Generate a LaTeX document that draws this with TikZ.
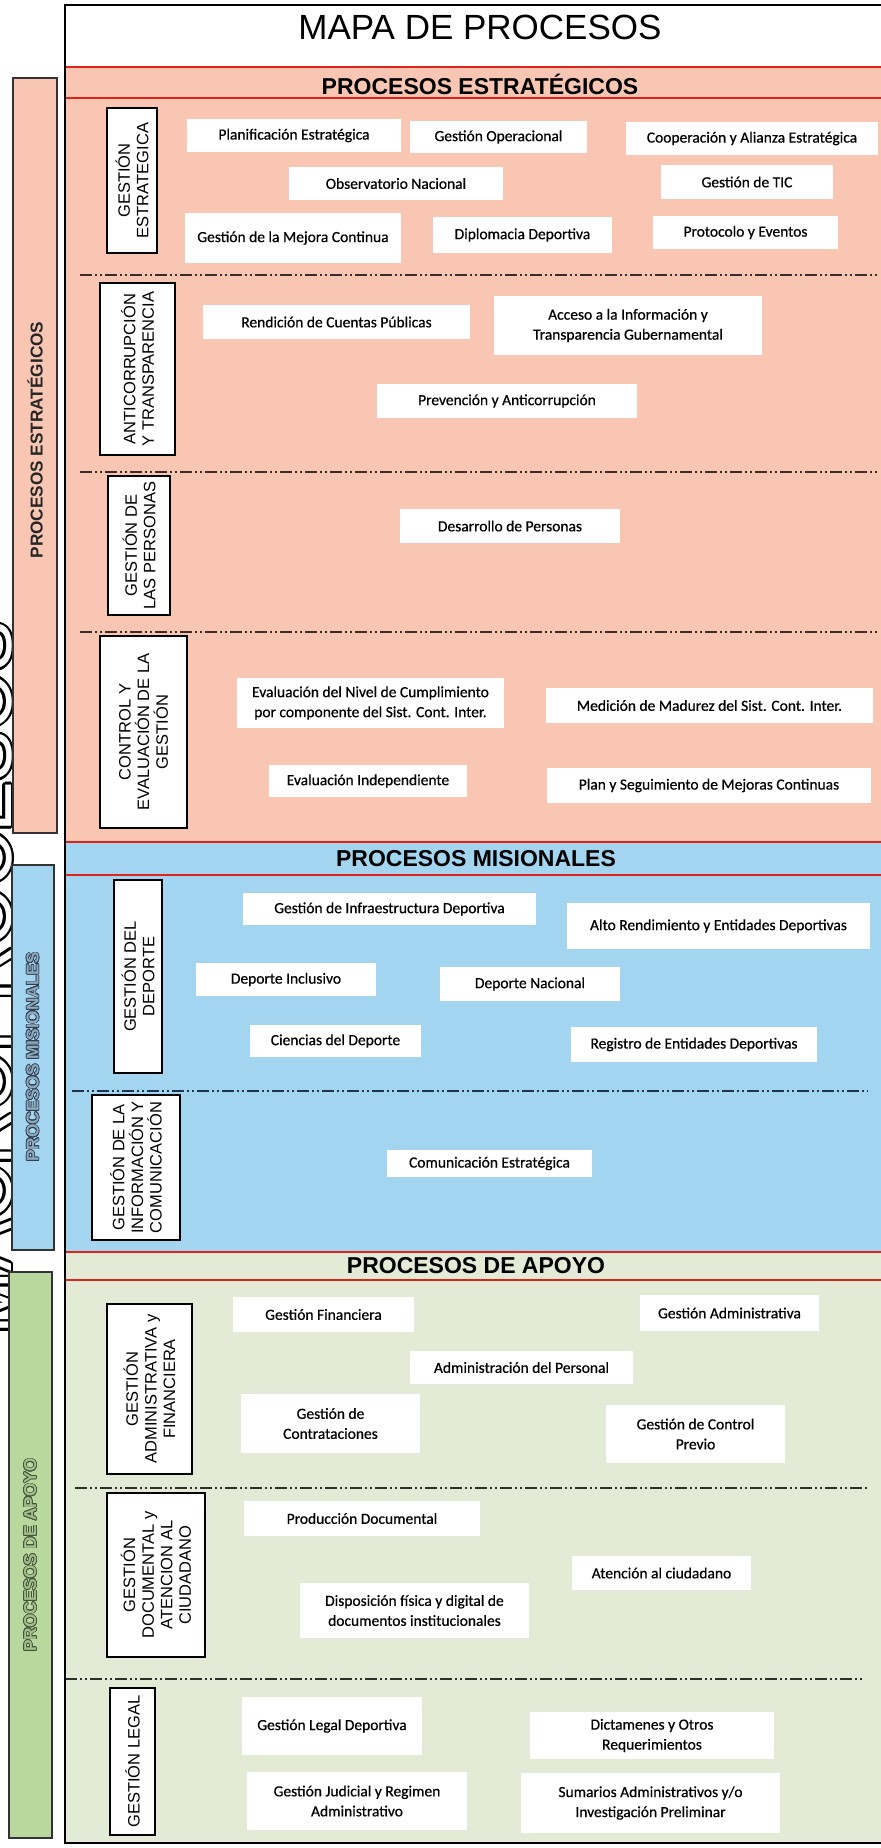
\documentclass[tikz,border=0pt]{standalone}
\usepackage{fontspec}
\setmainfont{Liberation Sans}
\newfontfamily\boxfont[FakeBold=0.6]{Carlito}
\usepackage[copies]{contour}
\definecolor{pinkc}{HTML}{F8C6B2}
\definecolor{bluec}{HTML}{A3D5F0}
\definecolor{greenc}{HTML}{E3EBD6}
\definecolor{greenbar}{HTML}{B9D89E}
\definecolor{redl}{HTML}{E0241B}
\definecolor{sepA}{HTML}{3B2A26}
\definecolor{sepB}{HTML}{1E3552}
\definecolor{sepC}{HTML}{2E2E2A}
\definecolor{misiF}{HTML}{8FA9BE}
\definecolor{misiC}{HTML}{2F3F4F}
\definecolor{apoF}{HTML}{A3BF8C}
\definecolor{apoC}{HTML}{44553A}
\newcommand\pbox[6]{\node[procbox, minimum width={(#4-#2)*0.5pt}, minimum height={(#5-#3)*0.5pt}] (#1) at ({(#2+#4)/2},{(#3+#5)/2}) {#6};}
\newcommand\lbox[6]{\node[labelbox, minimum width={(#5-#3)*0.5pt}, minimum height={(#4-#2)*0.5pt}] (#1) at ({(#2+#4)/2},{(#3+#5)/2}) {#6};}
\begin{document}
\begin{tikzpicture}[x=0.5pt,y=-0.5pt,
  procbox/.style={fill=white, inner sep=0pt, align=center, font=\boxfont\fontsize{7.75}{10}\selectfont, text=black},
  labelbox/.style={draw=black, line width=1pt, fill=white, rotate=90, inner sep=0pt, align=center, font=\fontsize{8.25}{9.3}\selectfont},
  sepline/.style={line width=1.1pt, dash pattern=on 6pt off 1.5pt on 1pt off 1.5pt on 1pt off 1.5pt},
  redline/.style={draw=redl, line width=1.4pt},
  sidebar/.style={draw=black!80, line width=0.7pt, rotate=90, inner sep=0pt},
  sidetext/.style={rotate=90, inner sep=0pt, font=\bfseries\fontsize{8.6}{10}\selectfont},
  header/.style={inner sep=0pt, font=\bfseries\fontsize{11.5}{13}\selectfont}]
\useasboundingbox (0,0) rectangle (880,1848);
\fill[white] (0,0) rectangle (880,1848);
% big background word
\contourlength{1.3pt}
\node[rotate=90, anchor=base, inner sep=0pt, font=\fontsize{38}{38}\selectfont] (macro) at (11,978) {\contour{black}{\textcolor{white}{MACROPROCESOS}}};
% side bars
\node[sidebar, fill=pinkc, minimum width={(833-78)*0.5pt}, minimum height={(57-13)*0.5pt}] (barE) at (35,455.5) {};
\node[sidetext, text=black!85] (barEt) at (35,440) {PROCESOS ESTRATÉGICOS};
\node[sidebar, fill=bluec, minimum width={(1250-865)*0.5pt}, minimum height={(54-12)*0.5pt}] (barM) at (33,1057.5) {};
\contourlength{0.35pt}
\node[sidetext] (barMt) at (33,1057) {\contour{misiC}{\textcolor{misiF}{PROCESOS MISIONALES}}};
\node[sidebar, fill=greenbar, minimum width={(1838-1272)*0.5pt}, minimum height={(52-9)*0.5pt}] (barA) at (30.5,1555) {};
\node[sidetext] (barAt) at (30.5,1555) {\contour{apoC}{\textcolor{apoF}{PROCESOS DE APOYO}}};
% regions
\fill[pinkc] (65,67) rectangle (882,842);
\fill[bluec] (65,842) rectangle (882,1252);
\fill[greenc] (65,1252) rectangle (882,1843);
% title and headers
\node[inner sep=0pt, font=\fontsize{17.5}{20}\selectfont] (title) at (480,27) {MAPA DE PROCESOS};
\draw[redline] (65,67) -- (882,67);
\draw[redline] (65,98) -- (882,98);
\node[header] (hE) at (480,84) {PROCESOS ESTRATÉGICOS};
\draw[redline] (65,842) -- (882,842);
\draw[redline] (65,875) -- (882,875);
\node[header] (hM) at (476,859) {PROCESOS MISIONALES};
\draw[redline] (65,1252) -- (882,1252);
\draw[redline] (65,1280) -- (882,1280);
\node[header] (hA) at (476,1266) {PROCESOS DE APOYO};
% separators
\draw[sepline, draw=sepA] (80,275) -- (878,275);
\draw[sepline, draw=sepA] (80,472) -- (878,472);
\draw[sepline, draw=sepA] (80,632) -- (878,632);
\draw[sepline, draw=sepB] (72,1091) -- (868,1091);
\draw[sepline, draw=sepC] (75,1488) -- (870,1488);
\draw[sepline, draw=sepC] (65,1679) -- (865,1679);
% label boxes
\lbox{le1}{107}{108}{157}{253}{GESTIÓN\\ESTRATEGICA}
\lbox{le2}{100}{283}{175}{455}{ANTICORRUPCIÓN\\Y TRANSPARENCIA}
\lbox{le3}{108}{476}{170}{615}{GESTIÓN DE\\LAS PERSONAS}
\lbox{le4}{100}{636}{187}{828}{CONTROL Y\\EVALUACIÓN DE LA\\GESTIÓN}
\lbox{lm1}{114}{880}{162}{1073}{GESTIÓN DEL\\DEPORTE}
\lbox{lm2}{92}{1095}{180}{1240}{GESTIÓN DE LA\\INFORMACIÓN Y\\COMUNICACIÓN}
\lbox{la1}{107}{1304}{192}{1474}{GESTIÓN\\ADMINISTRATIVA y\\FINANCIERA}
\lbox{la2}{107}{1493}{205}{1657}{GESTIÓN\\DOCUMENTAL y\\ATENCION AL\\CIUDADANO}
\lbox{la3}{110}{1688}{155}{1835}{GESTIÓN LEGAL}
% process boxes
\pbox{pe1}{187}{119}{401}{152}{Planificación Estratégica}
\pbox{pe2}{410}{121}{587}{153}{Gestión Operacional}
\pbox{pe3}{626}{122}{878}{155}{Cooperación y Alianza Estratégica}
\pbox{pe4}{289}{167}{503}{200}{Observatorio Nacional}
\pbox{pe5}{661}{165}{833}{199}{Gestión de TIC}
\pbox{pe6}{185}{213}{401}{263}{Gestión de la Mejora Continua}
\pbox{pe7}{433}{217}{612}{253}{Diplomacia Deportiva}
\pbox{pe8}{653}{216}{838}{249}{Protocolo y Eventos}
\pbox{ac1}{203}{305}{470}{339}{Rendición de Cuentas Públicas}
\pbox{ac2}{494}{296}{762}{355}{Acceso a la Información y\\Transparencia Gubernamental}
\pbox{ac3}{377}{384}{637}{418}{Prevención y Anticorrupción}
\pbox{gp1}{400}{509}{620}{543}{Desarrollo de Personas}
\pbox{ce1}{237}{678}{504}{728}{Evaluación del Nivel de Cumplimiento\\por componente del Sist. Cont. Inter.}
\pbox{ce2}{546}{688}{873}{723}{Medición de Madurez del Sist. Cont. Inter.}
\pbox{ce3}{269}{765}{467}{797}{Evaluación Independiente}
\pbox{ce4}{547}{768}{871}{803}{Plan y Seguimiento de Mejoras Continuas}
\pbox{gd1}{243}{893}{536}{925}{Gestión de Infraestructura Deportiva}
\pbox{gd2}{567}{903}{870}{949}{Alto Rendimiento y Entidades Deportivas}
\pbox{gd3}{196}{963}{376}{996}{Deporte Inclusivo}
\pbox{gd4}{440}{967}{620}{1001}{Deporte Nacional}
\pbox{gd5}{250}{1025}{421}{1057}{Ciencias del Deporte}
\pbox{gd6}{571}{1027}{817}{1062}{Registro de Entidades Deportivas}
\pbox{gi1}{387}{1150}{592}{1177}{Comunicación Estratégica}
\pbox{ga1}{233}{1297}{414}{1332}{Gestión Financiera}
\pbox{ga2}{640}{1295}{819}{1331}{Gestión Administrativa}
\pbox{ga3}{410}{1351}{633}{1384}{Administración del Personal}
\pbox{ga4}{241}{1394}{420}{1453}{Gestión de\\Contrataciones}
\pbox{ga5}{606}{1405}{785}{1463}{Gestión de Control\\Previo}
\pbox{gc1}{244}{1501}{480}{1536}{Producción Documental}
\pbox{gc2}{572}{1556}{751}{1590}{Atención al ciudadano}
\pbox{gc3}{300}{1583}{529}{1638}{Disposición física y digital de\\documentos institucionales}
\pbox{gl1}{242}{1697}{422}{1755}{Gestión Legal Deportiva}
\pbox{gl2}{530}{1712}{774}{1759}{Dictamenes y Otros\\Requerimientos}
\pbox{gl3}{247}{1772}{467}{1830}{Gestión Judicial y Regimen\\Administrativo}
\pbox{gl4}{521}{1773}{780}{1833}{Sumarios Administrativos y/o\\Investigación Preliminar}
% frame
\draw[line width=1.2pt] (882,5) -- (65,5) -- (65,1843) -- (882,1843);
\end{tikzpicture}
\end{document}
